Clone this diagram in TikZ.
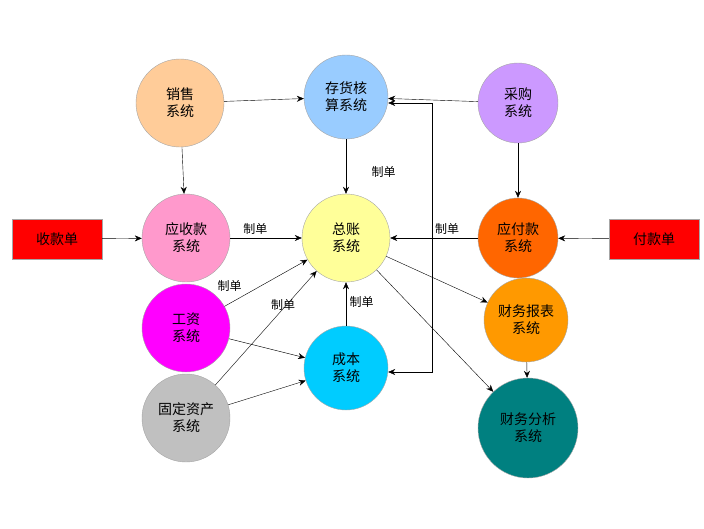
\documentclass[tikz,border=0pt]{standalone}
\usepackage{fontspec}
\newfontfamily\cjk{Noto Sans CJK SC}
\usetikzlibrary{arrows.meta}
\begin{document}
\begin{tikzpicture}[x=1pt,y=-1pt,>={Stealth[length=7pt,width=6pt]},
        every node/.style={font=\cjk\fontsize{14}{17}\selectfont},
        sys/.style={circle, draw=gray!70, minimum size=#1, inner sep=0pt, align=center},
        sys/.default=88pt,
        slip/.style={draw=gray!70, fill=red, minimum width=90pt, minimum height=40pt},
        lbl/.style={font=\cjk\fontsize{12}{14}\selectfont}]

        \useasboundingbox (0,0) rectangle (704,528);

        \node[sys, fill={rgb,255:red,255;green,204;blue,153}] (xs) at (180,103) {销售\\系统};
        \node[sys=84pt, fill={rgb,255:red,153;green,204;blue,255}] (ch) at (346,97) {存货核\\算系统};
        \node[sys=80pt, fill={rgb,255:red,204;green,153;blue,255}] (cg) at (518,103) {采购\\系统};
        \node[sys, fill={rgb,255:red,255;green,153;blue,204}] (ys) at (186,238) {应收款\\系统};
        \node[sys, fill={rgb,255:red,255;green,255;blue,153}] (zz) at (346,238) {总账\\系统};
        \node[sys=80pt, fill={rgb,255:red,255;green,102;blue,0}] (yf) at (518,238) {应付款\\系统};
        \node[slip] (sk) at (57,239) {收款单};
        \node[slip] (fk) at (654,239) {付款单};
        \node[sys, fill={rgb,255:red,255;green,0;blue,255}] (gz) at (186,328) {工资\\系统};
        \node[sys=84pt, fill={rgb,255:red,0;green,204;blue,255}] (cb) at (346,368) {成本\\系统};
        \node[sys=84pt, fill={rgb,255:red,255;green,153;blue,0}] (bb) at (526,320) {财务报表\\系统};
        \node[sys, fill={rgb,255:red,192;green,192;blue,192}] (gd) at (186,418) {固定资产\\系统};
        \node[sys=100pt, fill={rgb,255:red,0;green,128;blue,128}] (fx) at (528,428) {财务分析\\系统};

        \coordinate (top) at (432,103);
        \coordinate (bot) at (432,372);

        \path[->]
        (xs) edge [] node[] {} (ch)
        (cg) edge [] node[] {} (ch)
        (xs) edge [] node[] {} (ys)
        (ch) edge [] node[lbl, right, pos=0.6, xshift=22pt] {制单} (zz)
        (cg) edge [] node[] {} (yf)
        (sk) edge [] node[] {} (ys)
        (fk) edge [] node[] {} (yf)
        (ys) edge [] node[lbl, above, pos=0.35] {制单} (zz)
        (yf) edge [] node[lbl, above, pos=0.35] {制单} (zz)
        (cb) edge [] node[lbl, right, pos=0.55] {制单} (zz)
        (gz) edge [] node[lbl, above left, pos=0.25] {制单} (zz)
        (gz) edge [] node[] {} (cb)
        (gd) edge [] node[lbl, above, pos=0.62, xshift=5pt] {制单} (zz)
        (gd) edge [] node[] {} (cb)
        (zz) edge [] node[] {} (bb)
        (zz) edge [] node[] {} (fx)
        (bb) edge [] node[] {} (fx);

        \draw[<->] (ch.east |- top) -- (top) -- (bot) -- (cb.east |- bot);

      \end{tikzpicture}
\end{document}
